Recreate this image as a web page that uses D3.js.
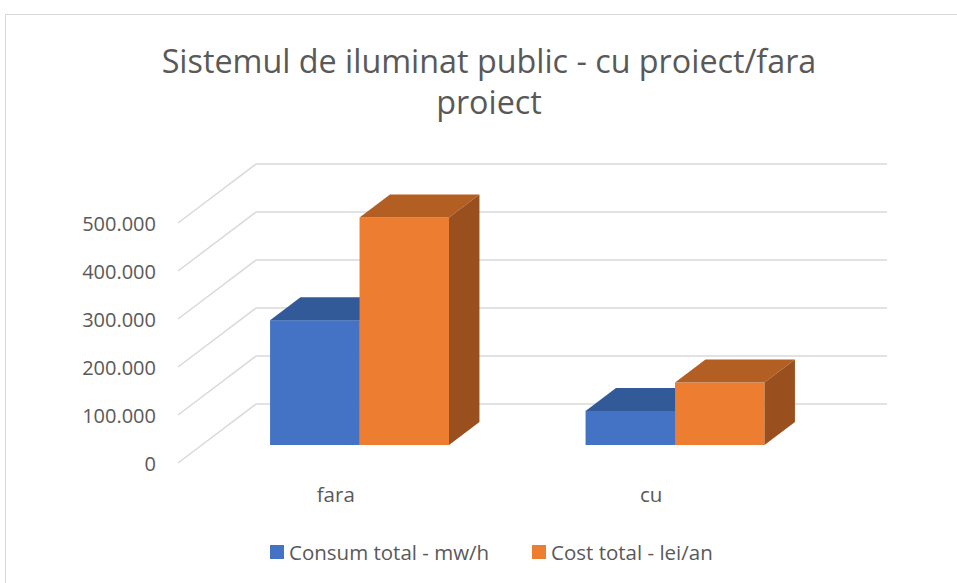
<!DOCTYPE html>
<html>
<head>
<meta charset="utf-8">
<script src="https://cdn.jsdelivr.net/npm/d3@7"></script>
<style>
  body { margin: 0; background: #fff; }
  text { font-family: "Open Sans", sans-serif; fill: #595959; }
</style>
</head>
<body>
<svg id="chart"></svg>
<script>
// Data
const categories = ["fara", "cu"];
const seriesNames = ["Consum total - mw/h", "Cost total - lei/an"];
const consumValues = [260000, 71000];
const costValues = [474000, 130000];
const yTicks = [0, 100000, 200000, 300000, 400000, 500000];
const titleLines = ["Sistemul de iluminat public - cu proiect/fara", "proiect"];

const seriesValues = [consumValues, costValues];
const colors = ["#4472C4", "#ED7D31"];
const topColors = ["#335A98", "#B35E22"];
const sideColors = ["#2C4E86", "#9A4F1E"];

const width = 957;
const height = 583;

// oblique projection of the 3D box
const depthX = 78;
const depthY = -59;
const frontBar = 0.305;
const backBar = 0.695;

const svg = d3.select("#chart")
  .attr("width", width)
  .attr("height", height);

// chart border
svg.append("rect")
  .attr("x", 5.5).attr("y", 14.5)
  .attr("width", 1000).attr("height", 700)
  .attr("fill", "none")
  .attr("stroke", "#D9D9D9");

// title
svg.selectAll(".title")
  .data(titleLines)
  .enter()
  .append("text")
  .attr("class", "title")
  .attr("x", 489)
  .attr("y", (d, i) => 73 + i * 41)
  .attr("text-anchor", "middle")
  .attr("font-size", 32.3)
  .text(d => d);

// scales (front plane)
const x = d3.scaleBand().domain(categories).range([178, 809]);
const xs = d3.scaleBand().domain([0, 1]).range([0, x.bandwidth()]).paddingOuter(0.763);
const y = d3.scaleLinear().domain([0, 500000]).range([463, 223]);

const fmt = d3.formatLocale({decimal: ",", thousands: ".", grouping: [3], currency: ["", ""]}).format(",");

// gridlines: side wall diagonal + back wall line
const grid = svg.append("g")
  .attr("stroke", "#D9D9D9")
  .attr("stroke-width", 1.5)
  .attr("fill", "none");
grid.selectAll("path")
  .data(yTicks)
  .enter()
  .append("path")
  .attr("d", d => `M${x.range()[0]},${y(d)}L${x.range()[0] + depthX},${y(d) + depthY}H${x.range()[1] + depthX}`);

// y axis labels
svg.selectAll(".ylab")
  .data(yTicks)
  .enter()
  .append("text")
  .attr("class", "ylab")
  .attr("x", 156)
  .attr("y", d => y(d) + 8)
  .attr("text-anchor", "end")
  .attr("font-size", 20)
  .text(d => fmt(d));

// bars
const bars = svg.append("g");
categories.forEach((c, ci) => {
  seriesValues.forEach((vals, si) => {
    const x0 = x(c) + xs(si) + frontBar * depthX;
    const x1 = x0 + xs.bandwidth();
    const yb = y(0) + frontBar * depthY;
    const yt = y(vals[ci]) + frontBar * depthY;
    const dx = (backBar - frontBar) * depthX;
    const dy = (backBar - frontBar) * depthY;
    const g = bars.append("g");
    g.append("rect")
      .attr("x", x0).attr("y", yt)
      .attr("width", x1 - x0).attr("height", yb - yt)
      .attr("fill", colors[si]);
    g.append("path")
      .attr("d", `M${x0},${yt}L${x1},${yt}L${x1 + dx},${yt + dy}L${x0 + dx},${yt + dy}Z`)
      .attr("fill", topColors[si]);
    g.append("path")
      .attr("d", `M${x1},${yt}L${x1 + dx},${yt + dy}L${x1 + dx},${yb + dy}L${x1},${yb}Z`)
      .attr("fill", sideColors[si]);
  });
});

// category labels
svg.selectAll(".xlab")
  .data(categories)
  .enter()
  .append("text")
  .attr("class", "xlab")
  .attr("x", d => x(d) + x.bandwidth() / 2)
  .attr("y", 502)
  .attr("text-anchor", "middle")
  .attr("font-size", 20.5)
  .text(d => d);

// legend
const legendX = [270, 532];
const legend = svg.selectAll(".legend")
  .data(seriesNames)
  .enter()
  .append("g")
  .attr("class", "legend")
  .attr("transform", (d, i) => `translate(${legendX[i]},545)`);
legend.append("rect")
  .attr("width", 14).attr("height", 14)
  .attr("fill", (d, i) => colors[i]);
legend.append("text")
  .attr("x", 19).attr("y", 14.5)
  .attr("font-size", 20.5)
  .text(d => d);
</script>
</body>
</html>
